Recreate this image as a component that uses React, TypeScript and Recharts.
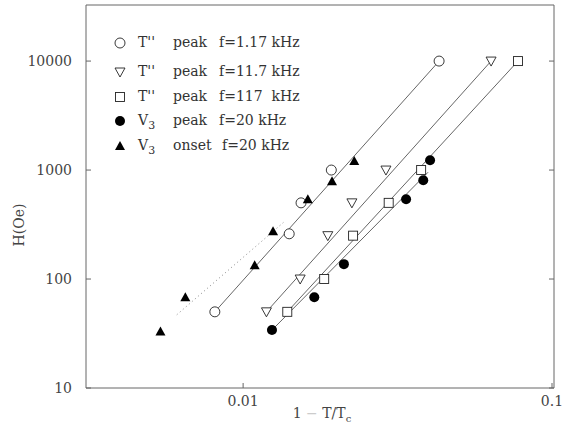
import { ScatterChart, Scatter, XAxis, YAxis, ReferenceArea } from "recharts";

// Critical field H vs reduced temperature 1 - T/Tc on log-log axes.
// Markers are the measured points; the thin lines are the power-law fits.

const xMin = 0.0031;
const xMax = 0.1015;
const hMin = 10;
const hMax = 32700;
const xTicks = [0.01, 0.1];
const hTicks = [10, 100, 1000, 10000];

// T'' peak, f = 1.17 kHz (open circles)
const peak117X = [0.0081, 0.0141, 0.0154, 0.0193, 0.0431];
const peak117H = [50, 260, 500, 1000, 10000];
// T'' peak, f = 11.7 kHz (open down triangles)
const peak11X = [0.0119, 0.0153, 0.0188, 0.0225, 0.029, 0.0635];
const peak11H = [50, 100, 250, 500, 1000, 10000];
// T'' peak, f = 117 kHz (open squares)
const peak1kX = [0.0139, 0.0183, 0.0227, 0.0296, 0.0377, 0.0776];
const peak1kH = [50, 100, 250, 500, 1000, 10000];
// V3 peak, f = 20 kHz (filled circles)
const v3PeakX = [0.0124, 0.017, 0.0212, 0.0337, 0.0383, 0.0403];
const v3PeakH = [34, 68, 137, 540, 805, 1230];
// V3 onset, f = 20 kHz (filled triangles)
const v3OnsetX = [0.0054, 0.0065, 0.0109, 0.0125, 0.0162, 0.0194, 0.0229];
const v3OnsetH = [33, 68, 134, 275, 540, 790, 1210];

// fit line end points
const fit117X = [0.0081, 0.0431];
const fit117H = [50, 10000];
const fit11X = [0.0119, 0.0635];
const fit11H = [50, 10000];
const fit1kX = [0.0139, 0.0776];
const fit1kH = [50, 10000];
const fitPeakX = [0.0124, 0.0397];
const fitPeakH = [34, 955];
const fitOnsetX = [0.0061, 0.0135];
const fitOnsetH = [47, 330];

const legendMarks = ["openCircle", "openTri", "openSquare", "dot", "tri"];
const legendNames = ["T''", "T''", "T''", "V", "V"];
const legendKinds = ["peak", "peak", "peak", "peak", "onset"];
const legendFreqs = ["f=1.17 kHz", "f=11.7 kHz", "f=117  kHz", "f=20 kHz", "f=20 kHz"];

const zip = (xs: number[], hs: number[]) => xs.map((x, i) => ({ x, h: hs[i] }));

const FONT = "'DejaVu Serif', serif";
const INK = "#222";
const LINE = "#666";

type P = { cx?: number; cy?: number };

const OpenCircle = ({ cx = 0, cy = 0 }: P) => (
  <circle cx={cx} cy={cy} r={5} fill="#fff" stroke={INK} strokeWidth={0.9} />
);
const OpenTri = ({ cx = 0, cy = 0 }: P) => (
  <polygon
    points={`${cx - 5},${cy - 4} ${cx + 5},${cy - 4} ${cx},${cy + 5}`}
    fill="#fff"
    stroke={INK}
    strokeWidth={0.9}
  />
);
const OpenSquare = ({ cx = 0, cy = 0 }: P) => (
  <rect x={cx - 4.5} y={cy - 4.5} width={9} height={9} fill="#fff" stroke={INK} strokeWidth={0.9} />
);
const Dot = ({ cx = 0, cy = 0 }: P) => <circle cx={cx} cy={cy} r={5} fill="#000" />;
const Tri = ({ cx = 0, cy = 0 }: P) => (
  <polygon points={`${cx - 5},${cy + 4} ${cx + 5},${cy + 4} ${cx},${cy - 5}`} fill="#000" />
);
const NoShape = () => <g />;

const shapes: Record<string, (p: P) => JSX.Element> = {
  openCircle: OpenCircle,
  openTri: OpenTri,
  openSquare: OpenSquare,
  dot: Dot,
  tri: Tri,
};

const YTick = ({ x, y, payload }: any) => (
  <g>
    <text x={x} y={y} dy={5} textAnchor="end" fontFamily={FONT} fontSize={14} fill="#444">
      {payload.value}
    </text>
    <line x1={x + 14} x2={x + 19} y1={y} y2={y} stroke={LINE} />
  </g>
);

const RightTick = ({ x, y }: any) => (
  <line x1={x - 5} x2={x} y1={y} y2={y} stroke={LINE} />
);

const XTick = ({ x, y, payload }: any) => (
  <g>
    <text x={x} y={y} dy={10} textAnchor="middle" fontFamily={FONT} fontSize={14} fill="#444">
      {payload.value}
    </text>
    <line x1={x} x2={x} y1={y - 8} y2={y - 13} stroke={LINE} />
  </g>
);

const fitLine = { stroke: LINE, strokeWidth: 1 };

function Legend() {
  const tops = [43, 72, 97, 121, 146];
  return (
    <div style={{ position: "absolute", left: 0, top: 0, fontFamily: FONT, fontSize: 14, color: "#333" }}>
      {legendMarks.map((m, i) => {
        const Mark = shapes[m];
        return (
          <div key={i} style={{ position: "absolute", top: tops[i] - 9, left: 0, height: 18, whiteSpace: "pre" }}>
            <svg width={12} height={12} style={{ position: "absolute", left: 114, top: 3 }}>
              <Mark cx={6} cy={6} />
            </svg>
            <span style={{ position: "absolute", left: 138, top: 0 }}>
              {legendNames[i]}
              {legendNames[i] === "V" ? <sub style={{ fontSize: 11 }}>3</sub> : null}
            </span>
            <span style={{ position: "absolute", left: 173, top: 0 }}>{legendKinds[i]}</span>
            <span style={{ position: "absolute", left: i === 4 ? 222 : 219, top: 0 }}>{legendFreqs[i]}</span>
          </div>
        );
      })}
    </div>
  );
}

export default function App() {
  return (
    <div style={{ position: "absolute", left: 0, top: 0, width: 569, height: 429, background: "#fff" }}>
      <ScatterChart width={569} height={429} margin={{ top: 5, right: 14, bottom: 11, left: 0 }}>
        <XAxis
          dataKey="x"
          type="number"
          scale="log"
          domain={[xMin, xMax]}
          allowDataOverflow
          ticks={xTicks}
          height={30}
          tickSize={0}
          tickMargin={8}
          axisLine={false}
          tick={XTick}
          label={() => (
            <text x={322} y={418} textAnchor="middle" fontFamily={FONT} fontSize={14} fill="#444">
              1 <tspan fill="#ccc">−</tspan> T/T
              <tspan dy={4} fontSize={10}>c</tspan>
            </text>
          )}
        />
        <YAxis
          dataKey="h"
          type="number"
          scale="log"
          domain={[hMin, hMax]}
          allowDataOverflow
          ticks={hTicks}
          width={86}
          tickSize={0}
          tickMargin={14}
          axisLine={false}
          tick={YTick}
          label={() => (
            <text
              x={24}
              y={225}
              transform="rotate(-90 24 225)"
              textAnchor="middle"
              fontFamily={FONT}
              fontSize={14}
              fill="#444"
            >
              H(Oe)
            </text>
          )}
        />
        <YAxis
          yAxisId="right"
          orientation="right"
          type="number"
          scale="log"
          domain={[hMin, hMax]}
          allowDataOverflow
          ticks={hTicks}
          width={1}
          tickSize={0}
          tickMargin={0}
          axisLine={false}
          tick={RightTick}
        />
        <ReferenceArea x1={xMin} x2={xMax} y1={hMin} y2={hMax} fill="none" stroke={LINE} strokeWidth={1} />

        <Scatter data={zip(fit117X, fit117H)} line={fitLine} lineType="joint" shape={NoShape} isAnimationActive={false} />
        <Scatter data={zip(fit11X, fit11H)} line={fitLine} lineType="joint" shape={NoShape} isAnimationActive={false} />
        <Scatter data={zip(fit1kX, fit1kH)} line={fitLine} lineType="joint" shape={NoShape} isAnimationActive={false} />
        <Scatter data={zip(fitPeakX, fitPeakH)} line={fitLine} lineType="joint" shape={NoShape} isAnimationActive={false} />
        <Scatter
          data={zip(fitOnsetX, fitOnsetH)}
          line={{ stroke: "#888", strokeWidth: 1, strokeDasharray: "1 3" }}
          lineType="joint"
          shape={NoShape}
          isAnimationActive={false}
        />

        <Scatter data={zip(peak117X, peak117H)} shape={OpenCircle} isAnimationActive={false} />
        <Scatter data={zip(peak11X, peak11H)} shape={OpenTri} isAnimationActive={false} />
        <Scatter data={zip(peak1kX, peak1kH)} shape={OpenSquare} isAnimationActive={false} />
        <Scatter data={zip(v3PeakX, v3PeakH)} shape={Dot} isAnimationActive={false} />
        <Scatter data={zip(v3OnsetX, v3OnsetH)} shape={Tri} isAnimationActive={false} />
      </ScatterChart>
      <Legend />
    </div>
  );
}
